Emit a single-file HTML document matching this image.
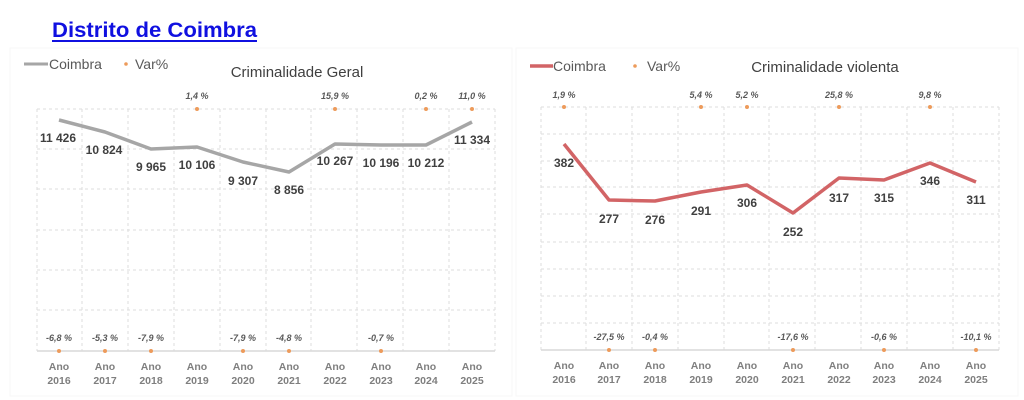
<!DOCTYPE html>
<html><head><meta charset="utf-8"><style>
html,body{margin:0;padding:0;background:#fff;}
svg{display:block;font-family:"Liberation Sans",Arial,sans-serif;}
</style></head><body>
<svg width="1024" height="400" viewBox="0 0 1024 400" xmlns="http://www.w3.org/2000/svg">
<rect width="1024" height="400" fill="#fff"/>
<text x="52" y="37" font-size="21" font-weight="bold" fill="#1010e0" textLength="205" lengthAdjust="spacingAndGlyphs">Distrito de Coimbra</text>
<rect x="52" y="40" width="205" height="2" fill="#1010e0"/>
<rect x="10" y="48" width="502" height="348" fill="none" stroke="#f7f7f7"/>
<rect x="516" y="48" width="502" height="348" fill="none" stroke="#f7f7f7"/>

<!-- LEFT CHART -->
<g stroke="#dedede" stroke-width="1" stroke-dasharray="3,3" fill="none">
<path d="M37 109H495M37 149H495M37 189H495M37 230H495M37 270H495M37 310H495"/>
<path d="M37 109V351M82 109V351M128 109V351M174 109V351M220 109V351M266 109V351M311 109V351M357 109V351M403 109V351M449 109V351M495 109V351"/>
</g>
<path d="M37 351H495" stroke="#d9d9d9" stroke-width="1.5"/>
<line x1="24" y1="64" x2="48" y2="64" stroke="#a6a6a6" stroke-width="3"/>
<text x="49" y="69" font-size="14" fill="#595959">Coimbra</text>
<circle cx="126" cy="64" r="1.8" fill="#ed9b5b"/>
<text x="135" y="69" font-size="14" fill="#595959">Var%</text>
<text x="297" y="77" font-size="15" fill="#404040" text-anchor="middle">Criminalidade Geral</text>
<polyline points="59,120 105,132 151,149 197,147 243,162 289,172 335,144 381,145 426,145 472,122" fill="none" stroke="#a6a6a6" stroke-width="3.5" stroke-linejoin="round"/>
<g font-size="12" font-weight="bold" fill="#404040" text-anchor="middle">
<text x="58" y="142">11 426</text><text x="104" y="154">10 824</text><text x="151" y="171">9 965</text>
<text x="197" y="169">10 106</text><text x="243" y="185">9 307</text><text x="289" y="194">8 856</text>
<text x="335" y="165">10 267</text><text x="381" y="167">10 196</text><text x="426" y="167">10 212</text>
<text x="472" y="144">11 334</text>
</g>
<g fill="#ed9b5b">
<circle cx="197" cy="109" r="2"/><circle cx="335" cy="109" r="2"/><circle cx="426" cy="109" r="2"/><circle cx="472" cy="109" r="2"/>
<circle cx="59" cy="351" r="2"/><circle cx="105" cy="351" r="2"/><circle cx="151" cy="351" r="2"/><circle cx="243" cy="351" r="2"/><circle cx="289" cy="351" r="2"/><circle cx="381" cy="351" r="2"/>
</g>
<g font-size="9" font-weight="bold" font-style="italic" fill="#595959" text-anchor="middle">
<text x="197" y="99">1,4 %</text><text x="335" y="99">15,9 %</text><text x="426" y="99">0,2 %</text><text x="472" y="99">11,0 %</text>
<text x="59" y="341">-6,8 %</text><text x="105" y="341">-5,3 %</text><text x="151" y="341">-7,9 %</text><text x="243" y="341">-7,9 %</text><text x="289" y="341">-4,8 %</text><text x="381" y="341">-0,7 %</text>
</g>
<g font-size="10.5" font-weight="bold" fill="#7f7f7f" text-anchor="middle">
<text x="59" y="370">Ano</text><text x="59" y="384">2016</text>
<text x="105" y="370">Ano</text><text x="105" y="384">2017</text>
<text x="151" y="370">Ano</text><text x="151" y="384">2018</text>
<text x="197" y="370">Ano</text><text x="197" y="384">2019</text>
<text x="243" y="370">Ano</text><text x="243" y="384">2020</text>
<text x="289" y="370">Ano</text><text x="289" y="384">2021</text>
<text x="335" y="370">Ano</text><text x="335" y="384">2022</text>
<text x="381" y="370">Ano</text><text x="381" y="384">2023</text>
<text x="426" y="370">Ano</text><text x="426" y="384">2024</text>
<text x="472" y="370">Ano</text><text x="472" y="384">2025</text>
</g>

<!-- RIGHT CHART -->
<g stroke="#dedede" stroke-width="1" stroke-dasharray="3,3" fill="none">
<path d="M541 107H999M541 134H999M541 161H999M541 187H999M541 214H999M541 242H999M541 269H999M541 296H999M541 323H999"/>
<path d="M541 107V350M586 107V350M632 107V350M678 107V350M724 107V350M769 107V350M815 107V350M861 107V350M907 107V350M953 107V350M999 107V350"/>
</g>
<path d="M541 350H999" stroke="#d9d9d9" stroke-width="1.5"/>
<line x1="530" y1="66" x2="553" y2="66" stroke="#d26466" stroke-width="3.5"/>
<text x="553" y="71" font-size="14" fill="#595959">Coimbra</text>
<circle cx="635" cy="66" r="1.8" fill="#ed9b5b"/>
<text x="647" y="71" font-size="14" fill="#595959">Var%</text>
<text x="825" y="72" font-size="15" fill="#404040" text-anchor="middle">Criminalidade violenta</text>
<polyline points="564,144 609,200 655,201 701,192 747,185 793,213 839,178 884,180 930,163 976,182" fill="none" stroke="#d26466" stroke-width="3.5" stroke-linejoin="round"/>
<g font-size="12" font-weight="bold" fill="#404040" text-anchor="middle">
<text x="564" y="167">382</text><text x="609" y="223">277</text><text x="655" y="224">276</text>
<text x="701" y="215">291</text><text x="747" y="207">306</text><text x="793" y="236">252</text>
<text x="839" y="202">317</text><text x="884" y="202">315</text><text x="930" y="185">346</text>
<text x="976" y="204">311</text>
</g>
<g fill="#ed9b5b">
<circle cx="564" cy="107" r="2"/><circle cx="701" cy="107" r="2"/><circle cx="747" cy="107" r="2"/><circle cx="839" cy="107" r="2"/><circle cx="930" cy="107" r="2"/>
<circle cx="609" cy="350" r="2"/><circle cx="655" cy="350" r="2"/><circle cx="793" cy="350" r="2"/><circle cx="884" cy="350" r="2"/><circle cx="976" cy="350" r="2"/>
</g>
<g font-size="9" font-weight="bold" font-style="italic" fill="#595959" text-anchor="middle">
<text x="564" y="98">1,9 %</text><text x="701" y="98">5,4 %</text><text x="747" y="98">5,2 %</text><text x="839" y="98">25,8 %</text><text x="930" y="98">9,8 %</text>
<text x="609" y="340">-27,5 %</text><text x="655" y="340">-0,4 %</text><text x="793" y="340">-17,6 %</text><text x="884" y="340">-0,6 %</text><text x="976" y="340">-10,1 %</text>
</g>
<g font-size="10.5" font-weight="bold" fill="#7f7f7f" text-anchor="middle">
<text x="564" y="369">Ano</text><text x="564" y="383">2016</text>
<text x="609" y="369">Ano</text><text x="609" y="383">2017</text>
<text x="655" y="369">Ano</text><text x="655" y="383">2018</text>
<text x="701" y="369">Ano</text><text x="701" y="383">2019</text>
<text x="747" y="369">Ano</text><text x="747" y="383">2020</text>
<text x="793" y="369">Ano</text><text x="793" y="383">2021</text>
<text x="839" y="369">Ano</text><text x="839" y="383">2022</text>
<text x="884" y="369">Ano</text><text x="884" y="383">2023</text>
<text x="930" y="369">Ano</text><text x="930" y="383">2024</text>
<text x="976" y="369">Ano</text><text x="976" y="383">2025</text>
</g>
</svg>
</body></html>
